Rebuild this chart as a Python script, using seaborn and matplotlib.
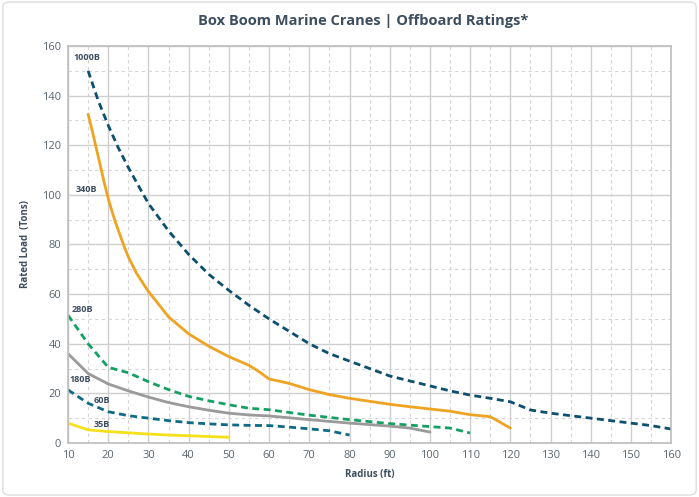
import matplotlib
matplotlib.use("Agg")
import matplotlib.pyplot as plt
import seaborn as sns
import pandas as pd
from matplotlib.patches import FancyBboxPatch
from matplotlib.ticker import MultipleLocator

# radius (ft) and rated load (tons) per crane model
x_1000b = [15, 17.5, 20, 22.5, 25, 30, 35, 40, 45, 50, 55, 60, 65, 70, 75, 80, 85, 90,
           95, 100, 105, 110, 115, 120, 125, 130, 135, 140, 145, 150, 155, 160]
y_1000b = [150, 138, 128, 119, 111, 96.5, 85.5, 76, 68, 61.5, 55.5, 50, 45, 40, 36, 33,
           30, 27, 25, 23, 21, 19.3, 18, 16.6, 13.3, 12, 11, 10, 9, 8, 7, 5.6]

x_340b = [15, 16, 17, 18, 19, 20, 21, 22, 23, 24, 25, 27, 30, 32, 35, 40, 45, 50, 55,
          57, 60, 65, 70, 75, 80, 85, 90, 95, 100, 105, 110, 115, 120]
y_340b = [132.5, 126, 119, 112, 105, 98.5, 93, 88, 83.5, 79, 75, 68.5, 61, 57, 50.8,
          44, 39, 34.8, 31.3, 29.3, 25.8, 24, 21.5, 19.5, 18, 16.8, 15.6, 14.6, 13.7,
          12.8, 11.4, 10.6, 6]

x_280b = [10, 15, 20, 25, 30, 35, 40, 45, 50, 55, 60, 70, 80, 90, 100, 105, 110]
y_280b = [51.5, 40, 30.5, 28.3, 24.7, 21.5, 18.8, 17, 15.4, 14, 13.4, 11.2, 9.4, 7.8,
          6.6, 6, 4]

x_180b = [10, 15, 20, 25, 30, 35, 40, 45, 50, 55, 60, 70, 80, 90, 95, 100]
y_180b = [36, 28, 23.8, 21, 18.5, 16.3, 14.6, 13.2, 12, 11.3, 10.9, 9.4, 8, 6.8, 6, 4.4]

x_60b = [10, 15, 20, 25, 30, 35, 40, 45, 50, 55, 60, 65, 70, 75, 80]
y_60b = [21.4, 16, 12.6, 11, 10, 9, 8.2, 7.7, 7.3, 7.1, 7, 6.4, 5.7, 4.9, 3.2]

x_35b = [10, 15, 20, 25, 30, 35, 40, 45, 50]
y_35b = [8, 5.3, 4.6, 4.1, 3.6, 3.2, 2.9, 2.6, 2.3]

series = [
    ("1000B", x_1000b, y_1000b, "#0d4f6e", True),
    ("340B", x_340b, y_340b, "#eea322", False),
    ("280B", x_280b, y_280b, "#14a063", True),
    ("180B", x_180b, y_180b, "#9a9a9a", False),
    ("60B", x_60b, y_60b, "#0f6a86", True),
    ("35B", x_35b, y_35b, "#f5e01c", False),
]

# label positions (data coords)
label_pos = {
    "1000B": (14.7, 155.5),
    "340B": (14.7, 102),
    "280B": (13.5, 54),
    "180B": (13.0, 25.5),
    "60B": (18.5, 17),
    "35B": (18.5, 7.3),
}

sns.set_style("white")
plt.rcParams["font.family"] = ["Open Sans", "DejaVu Sans"]

fig = plt.figure(figsize=(6.99, 4.97), dpi=100)
ax = fig.add_axes([0.0973, 0.1087, 0.863, 0.7987])

text_col = "#3d4e5e"

for name, xs, ys, col, dashed in series:
    df = pd.DataFrame({"Radius": xs, "Load": ys})
    sns.lineplot(data=df, x="Radius", y="Load", ax=ax, color=col, linewidth=2)
    ln = ax.lines[-1]
    ln.set_solid_joinstyle("round")
    if dashed:
        ln.set_dashes((2.5, 1.6))
    lx, ly = label_pos[name]
    ax.text(lx, ly, name, fontsize=6.5, fontweight="bold", color=text_col,
            ha="center", va="center")

ax.set_xlim(10, 160)
ax.set_ylim(0, 160)
ax.xaxis.set_major_locator(MultipleLocator(10))
ax.xaxis.set_minor_locator(MultipleLocator(5))
ax.yaxis.set_major_locator(MultipleLocator(20))
ax.yaxis.set_minor_locator(MultipleLocator(10))
ax.grid(which="major", color="#cfcfcf", linewidth=1, linestyle="-")
ax.grid(which="minor", color="#d4d4d4", linewidth=0.8, linestyle=(0, (3, 3)))
ax.set_axisbelow(True)
for s in ax.spines.values():
    s.set_color("#bdbdbd")
    s.set_linewidth(1.2)
ax.tick_params(which="both", length=0, labelsize=8, colors="#5a6670", pad=5)

ax.set_xlabel("Radius (ft)", fontsize=7, fontweight="bold", color=text_col, labelpad=6)
ax.set_ylabel("Rated Load  (Tons)", fontsize=7, fontweight="bold", color=text_col, labelpad=8)
fig.text(0.52, 0.958, "Box Boom Marine Cranes | Offboard Ratings*", ha="center", va="center",
         fontsize=10.5, fontweight="bold", color=text_col)

border = FancyBboxPatch((0.004, 0.004), 0.992, 0.992, boxstyle="round,pad=0,rounding_size=0.01",
                        transform=fig.transFigure, fill=False, edgecolor="#dddddd", linewidth=1)
fig.patches.append(border)

fig.savefig("out.png", dpi=100)
